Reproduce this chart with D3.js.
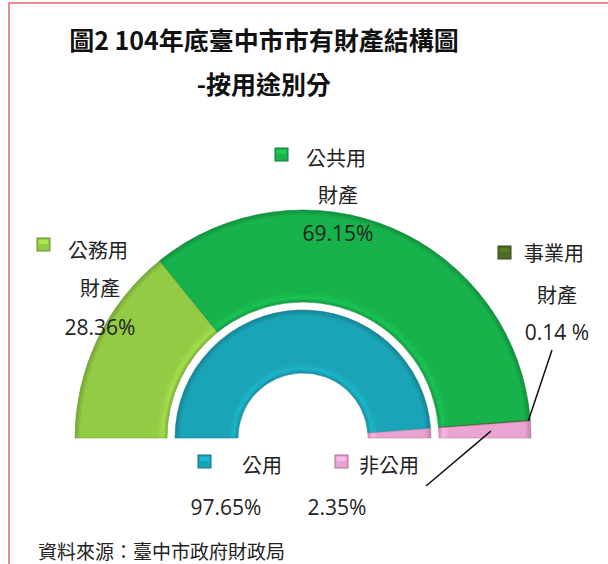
<!DOCTYPE html>
<html>
  <head>
    <meta charset="utf-8">
    <!-- load the d3 javascript library -->
    <script src="https://d3js.org/d3.v7.min.js"></script>

    <style>
    body { margin: 0; background: #fff; }
    text {
      font-family: "Noto Sans CJK TC", "Noto Sans", sans-serif;
      fill: #222;
    }
    .title { font-size: 25px; font-weight: bold; fill: #111; }
    .lbl { font-size: 20px; }
    .src { font-size: 19px; }
    .num { font-family: "Open Sans", "Noto Sans", sans-serif; font-size: 21px; }
    </style>
  </head>
  <body>
    <script>

    // chart data
    var outerNames = ["公務用財產", "公共用財產", "事業用財產", "非公用"];
    var outerValues = [28.36, 69.15, 0.14, 2.35];
    var outerColors = ["#94cb45", "#17b24c", "#4d6b22", "#eba3d2"];

    var innerNames = ["公用", "非公用"];
    var innerValues = [97.65, 2.35];
    var innerColors = ["#1aa4b8", "#eba3d2"];

    var w = 608;
    var h = 564;
    var cx = 303, cy = 438; // centre of both half rings
    var ring = { inner: [65, 128], outer: [136, 228] };

    var svg = d3.select("body")
      .append("svg")
      .attr("width", w)
      .attr("height", h);

    // page frame (thin red line top and left)
    svg.append("line").attr("x1", 8).attr("y1", 3).attr("x2", w).attr("y2", 3)
      .attr("stroke", "#e98a8e").attr("stroke-width", 2);
    svg.append("line").attr("x1", 9).attr("y1", 3).attr("x2", 9).attr("y2", h)
      .attr("stroke", "#e98a8e").attr("stroke-width", 2);

    // title
    svg.append("text").attr("class", "title")
      .attr("x", 264).attr("y", 50).attr("text-anchor", "middle")
      .text("圖2 104年底臺中市市有財產結構圖");
    svg.append("text").attr("class", "title")
      .attr("x", 264).attr("y", 94).attr("text-anchor", "middle")
      .text("-按用途別分");

    // bevel-ish radial gradients, one per colour per ring
    // (user space of the translated group, so centre is 0,0)
    var defs = svg.append("defs");
    function grad(id, color, r0, r1) {
      var c = d3.color(color);
      var g = defs.append("radialGradient")
        .attr("id", id)
        .attr("gradientUnits", "userSpaceOnUse")
        .attr("cx", 0).attr("cy", 0).attr("r", r1);
      [[r0, c.darker(0.4)], [r0 + 4, c.brighter(0.25)], [r0 + 10, c],
       [r1 - 6, c], [r1 - 1, c.darker(0.5)], [r1, c.darker(0.8)]].forEach(function(s) {
        g.append("stop").attr("offset", s[0] / r1).attr("stop-color", s[1].formatHex());
      });
      return "url(#" + id + ")";
    }

    // half pie from left (-90deg) over the top to right (+90deg)
    var pie = d3.pie().sort(null)
      .startAngle(-Math.PI / 2)
      .endAngle(Math.PI / 2);

    function drawRing(values, colors, radii, key) {
      var arc = d3.arc().innerRadius(radii[0]).outerRadius(radii[1]);
      var arcs = pie(values);
      svg.append("g")
        .attr("transform", "translate(" + cx + "," + cy + ")")
        .selectAll("path")
        .data(arcs)
        .enter()
        .append("path")
        .attr("d", arc)
        .attr("fill", function(d, i) {
          return grad(key + i, colors[i], radii[0], radii[1]);
        })
        .attr("stroke", function(d, i) { return d3.color(colors[i]).darker(0.6); })
        .attr("stroke-width", 0.6);
      return arcs;
    }

    var outerArcs = drawRing(outerValues, outerColors, ring.outer, "go");
    var innerArcs = drawRing(innerValues, innerColors, ring.inner, "gi");

    // point on a ring at given d3 angle
    function pt(angle, r) {
      return [cx + r * Math.sin(angle), cy - r * Math.cos(angle)];
    }

    // leader lines
    var a2 = outerArcs[2], a3 = outerArcs[3];
    var p0 = pt((a2.startAngle + a2.endAngle) / 2, ring.outer[1] - 2);
    svg.append("line")
      .attr("x1", p0[0]).attr("y1", p0[1]).attr("x2", 552).attr("y2", 350)
      .attr("stroke", "#111").attr("stroke-width", 1.5);
    var p1 = pt((a3.startAngle + a3.endAngle) / 2, 188);
    svg.append("line")
      .attr("x1", p1[0]).attr("y1", p1[1]).attr("x2", 426).attr("y2", 486)
      .attr("stroke", "#111").attr("stroke-width", 1.5);

    // legend labels
    var labels = [
      { c: outerColors[0], sx: 37, sy: 238, name: "公務用", tx: 68, ty: 258,
        sub: "財產", cxm: 100, y2: 296, pct: outerValues[0].toFixed(2) + "%", y3: 335 },
      { c: outerColors[1], sx: 275, sy: 148, name: "公共用", tx: 306, ty: 166,
        sub: "財產", cxm: 338, y2: 203, pct: outerValues[1].toFixed(2) + "%", y3: 241 },
      { c: outerColors[2], sx: 498, sy: 246, name: "事業用", tx: 524, ty: 261,
        sub: "財產", cxm: 557, y2: 303, pct: outerValues[2].toFixed(2) + " %", y3: 340 },
      { c: innerColors[0], sx: 198, sy: 455, name: "公用", tx: 242, ty: 473,
        sub: null, cxm: 226, pct: innerValues[0].toFixed(2) + "%", y3: 515 },
      { c: innerColors[1], sx: 335, sy: 455, name: "非公用", tx: 359, ty: 473,
        sub: null, cxm: 337, pct: innerValues[1].toFixed(2) + "%", y3: 515 }
    ];

    labels.forEach(function(d, i) {
      var g = svg.append("g");
      var col = d3.color(d.c);
      g.append("rect")
        .attr("x", d.sx).attr("y", d.sy).attr("width", 13).attr("height", 13)
        .attr("fill", col.formatHex())
        .attr("stroke", col.darker(1)).attr("stroke-width", 1);
      g.append("rect")
        .attr("x", d.sx + 2).attr("y", d.sy + 2).attr("width", 9).attr("height", 4)
        .attr("fill", col.brighter(0.6)).attr("opacity", 0.6);
      g.append("text").attr("class", "lbl")
        .attr("x", d.tx).attr("y", d.ty).text(d.name);
      if (d.sub) {
        g.append("text").attr("class", "lbl")
          .attr("x", d.cxm).attr("y", d.y2).attr("text-anchor", "middle").text(d.sub);
      }
      g.append("text").attr("class", "num")
        .attr("x", d.cxm).attr("y", d.y3).attr("text-anchor", "middle").text(d.pct);
    });

    // source note
    svg.append("text").attr("class", "src")
      .attr("x", 38).attr("y", 559)
      .text("資料來源：臺中市政府財政局");

    </script>
  </body>
</html>
